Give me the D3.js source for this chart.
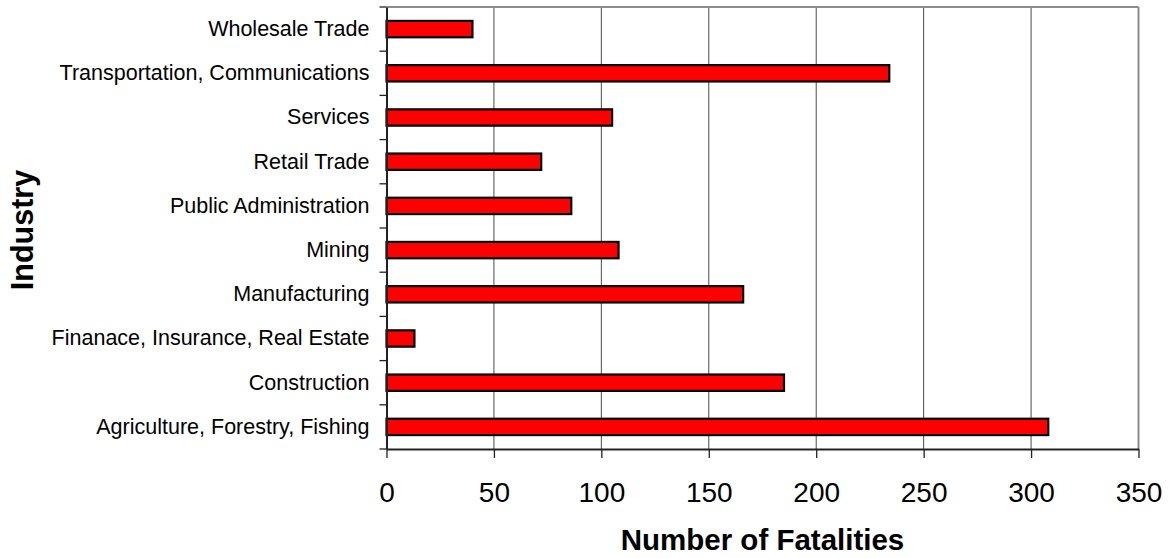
<!DOCTYPE html>
<html>
<head>
<meta charset="utf-8">
<script src="https://cdn.jsdelivr.net/npm/d3@7"></script>
<style>
  html, body { margin: 0; padding: 0; background: #fff; }
  svg { display: block; font-family: "Liberation Sans", Arial, sans-serif; }
</style>
</head>
<body>
<svg id="chart" width="1171" height="558"></svg>
<script>
// Categories listed top to bottom as in the chart
const industries = [
  "Wholesale Trade",
  "Transportation, Communications",
  "Services",
  "Retail Trade",
  "Public Administration",
  "Mining",
  "Manufacturing",
  "Finanace, Insurance, Real Estate",
  "Construction",
  "Agriculture, Forestry, Fishing"
];
const fatalities = [40, 234, 105, 72, 86, 108, 166, 13, 185, 308];
const xTicks = [0, 50, 100, 150, 200, 250, 300, 350];
const xTitle = "Number of Fatalities";
const yTitle = "Industry";

const svg = d3.select("#chart");
const m = { left: 386.5, right: 1138.5, top: 7, bottom: 449 };

const x = d3.scaleLinear().domain([0, 350]).range([m.left, m.right]);
const y = d3.scaleBand().domain(industries).range([m.top, m.bottom]).paddingInner(0).paddingOuter(0);

// gridlines
svg.append("g").selectAll("line").data(xTicks.filter(t => t > 0 && t < 350)).join("line")
  .attr("x1", d => x(d)).attr("x2", d => x(d))
  .attr("y1", m.top).attr("y2", m.bottom)
  .attr("stroke", "#4a4a4a").attr("stroke-width", 1);

// top and right border (gray)
svg.append("line").attr("x1", m.left).attr("x2", m.right).attr("y1", m.top).attr("y2", m.top)
  .attr("stroke", "#8c8c8c").attr("stroke-width", 2);
svg.append("line").attr("x1", m.right).attr("x2", m.right).attr("y1", m.top).attr("y2", m.bottom)
  .attr("stroke", "#8c8c8c").attr("stroke-width", 2);

// bars
const bh = y.bandwidth() * 0.37;
svg.append("g").selectAll("rect").data(industries).join("rect")
  .attr("x", x(0))
  .attr("y", d => y(d) + y.bandwidth() / 2 - bh / 2)
  .attr("width", (d, i) => x(fatalities[i]) - x(0))
  .attr("height", bh)
  .attr("fill", "#ff0000")
  .attr("stroke", "#000")
  .attr("stroke-width", 2.2);

// x axis
const xAxis = svg.append("g").attr("transform", `translate(0,${m.bottom})`)
  .call(d3.axisBottom(x).tickValues(xTicks).tickSizeInner(9).tickSizeOuter(0).tickPadding(24));
xAxis.select(".domain").attr("stroke", "#222").attr("stroke-width", 2);
xAxis.selectAll(".tick line").attr("stroke", "#222").attr("stroke-width", 1.3);
xAxis.selectAll(".tick text").attr("font-size", 28).attr("fill", "#000")
  .attr("font-family", "'Liberation Sans', Arial, sans-serif");

// y axis (labels at band centres)
const yAxis = svg.append("g").attr("transform", `translate(${m.left},0)`)
  .call(d3.axisLeft(y).tickSize(0).tickPadding(17));
yAxis.select(".domain").attr("stroke", "#222").attr("stroke-width", 2);
yAxis.selectAll(".tick text").attr("font-size", 21.5).attr("fill", "#000")
  .attr("font-family", "'Liberation Sans', Arial, sans-serif");

// y ticks at category boundaries
const bounds = industries.map(d => y(d)).concat([m.bottom]);
svg.append("g").selectAll("line").data(bounds).join("line")
  .attr("x1", m.left - 7).attr("x2", m.left)
  .attr("y1", d => d).attr("y2", d => d)
  .attr("stroke", "#222").attr("stroke-width", 1.3);

// axis titles
svg.append("text")
  .attr("x", (m.left + m.right) / 2).attr("y", 550)
  .attr("text-anchor", "middle")
  .attr("font-size", 29.5).attr("font-weight", "bold")
  .text(xTitle);

svg.append("text")
  .attr("transform", `translate(33,${(m.top + m.bottom) / 2 + 2}) rotate(-90)`)
  .attr("text-anchor", "middle")
  .attr("font-size", 30.5).attr("font-weight", "bold")
  .text(yTitle);
</script>
</body>
</html>
